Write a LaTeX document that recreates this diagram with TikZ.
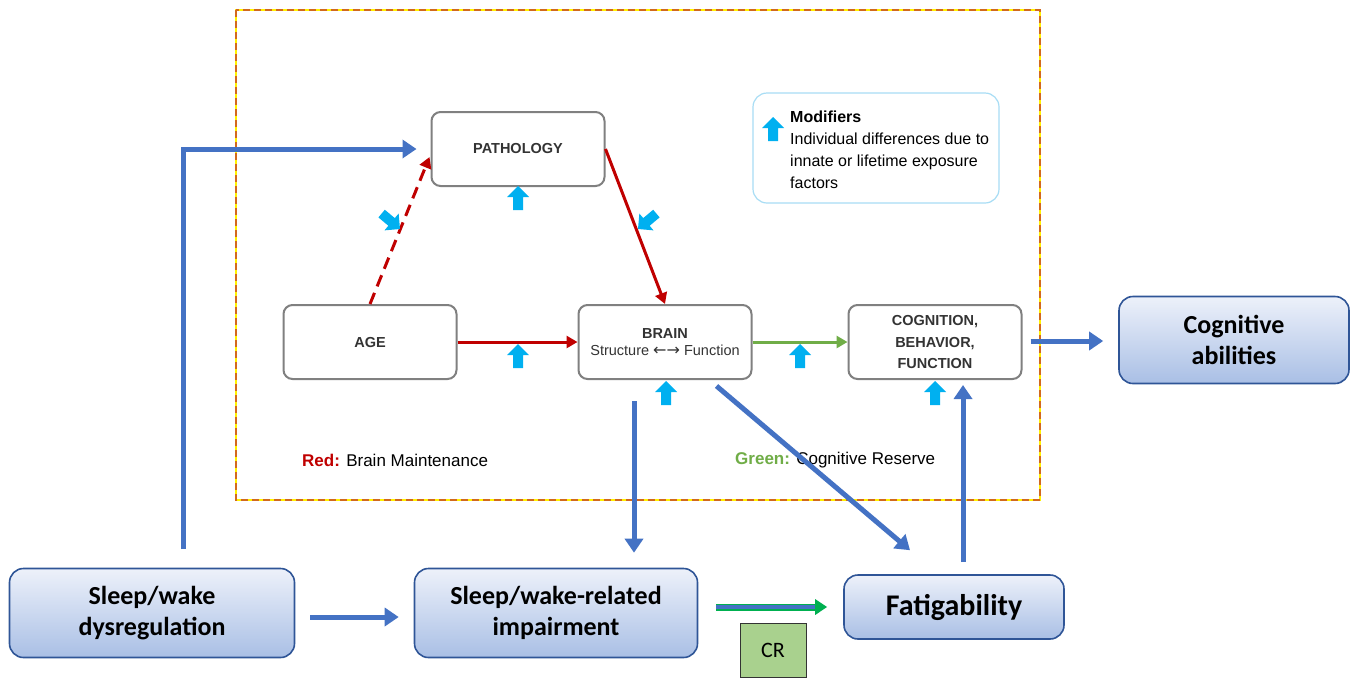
\documentclass[tikz,border=0pt]{standalone}
\usepackage{fontspec}
\setmainfont{Liberation Sans}
\newfontfamily\calib{Carlito}
\newfontfamily\dejavu{DejaVu Sans}
\usetikzlibrary{arrows.meta,calc}
\definecolor{bblue}{HTML}{4472C4}
\definecolor{dblue}{HTML}{2F5597}
\definecolor{dred}{HTML}{C00000}
\definecolor{mgreen}{HTML}{70AD47}
\definecolor{cyanm}{HTML}{00B0F0}
\definecolor{orng}{HTML}{D2691E}
\definecolor{gbox}{HTML}{A9D18E}
\definecolor{lblue}{HTML}{A8DDF5}
\definecolor{boxgray}{HTML}{808080}
\definecolor{txtgray}{HTML}{333333}
\definecolor{topb}{HTML}{EDF1FA}
\definecolor{botb}{HTML}{A9BFE5}
\definecolor{gline}{HTML}{00B050}
\tikzset{
  inbox/.style={draw=boxgray, line width=2pt, rounded corners=9pt, fill=white,
    minimum width=173pt, minimum height=74pt, inner sep=0pt, align=center,
    text=txtgray, font=\bfseries\fontsize{14.5}{20}\selectfont},
  bluebox/.style={draw=dblue, line width=1.6pt, rounded corners=14pt,
    top color=topb, bottom color=botb, inner sep=0pt, align=center,
    font=\calib\bfseries\fontsize{26}{31}\selectfont},
  barrow/.style={draw=bblue, line width=5pt, -{Triangle[length=14pt,width=18pt]}},
  rarrow/.style={draw=dred, line width=3pt, -{Triangle[length=11pt,width=12pt]}},
  garrow/.style={draw=mgreen, line width=3pt, -{Triangle[length=11pt,width=12pt]}},
  modarrow/.pic={\fill[cyanm] (0,0) -- (11,11) -- (5,11) -- (5,24) -- (-5,24) -- (-5,11) -- (-11,11) -- cycle;},
  lab/.style={anchor=west, inner sep=0pt, font=\fontsize{17}{19}\selectfont}
}
\begin{document}
\begin{tikzpicture}[x=1pt,y=-1pt]
\useasboundingbox[fill=white] (0,0) rectangle (1351,678);
% outer dashed frame
\draw[yellow, line width=2.4pt] (236,10) rectangle (1040,500);
\draw[orng, line width=2pt, dash pattern=on 7pt off 4pt] (236,10) rectangle (1040,500);

% inner boxes
\node[inbox] (path) at (518,149) {PATHOLOGY};
\node[inbox] (age) at (370,342) {AGE};
\node[inbox] (brain) at (665,342) {BRAIN\\[-3pt]{\mdseries\fontsize{14.5}{17}\selectfont Structure {\dejavu\fontsize{16}{17}\selectfont ←→} Function}};
\node[inbox, font=\bfseries\fontsize{14.5}{21.5}\selectfont] (cog) at (935,342) {COGNITION,\\BEHAVIOR,\\FUNCTION};

% legend
\node[draw=lblue, line width=1.2pt, rounded corners=14pt, minimum width=246pt, minimum height=110pt] (modbox) at (876,148) {};
\node[anchor=north west, align=left, inner sep=0pt, font=\fontsize{16}{22}\selectfont] (modtxt) at (790,111)
  {\textbf{Modifiers}\\Individual differences due to\\innate or lifetime exposure\\factors};
\pic at (773,117) {modarrow};

% labels
\node[lab] (redlab) at (302,460) {\textcolor{dred}{\textbf{Red:}} Brain Maintenance};
\node[lab] (greenlab) at (735,460) {\textcolor{mgreen}{\textbf{Green:}} Cognitive Reserve};

% outer boxes
\node[bluebox, minimum width=230pt, minimum height=87pt] (ca) at (1234,340) {Cognitive\\abilities};
\node[bluebox, minimum width=285pt, minimum height=89pt] (swd) at (152,613) {Sleep/wake\\dysregulation};
\node[bluebox, minimum width=283pt, minimum height=89pt] (swi) at (556,613) {Sleep/wake-related\\impairment};
\node[bluebox, minimum width=220pt, minimum height=64pt, font=\calib\bfseries\fontsize{30}{34}\selectfont] (fat) at (954,607) {Fatigability};
\node[draw=black!80, line width=1pt, fill=gbox, minimum width=66pt, minimum height=54pt, inner sep=0pt,
  font=\calib\fontsize{22}{26}\selectfont] (cr) at (773,650) {CR};

% red / green connectors
\draw[rarrow, dash pattern=on 12pt off 7pt] (age.north) -- ($(path.west)+(-1,8)$);
\draw[rarrow] (path.east) -- (brain.north);
\draw[rarrow] (age.east) -- (brain.west);
\draw[garrow] (brain.east) -- (cog.west);

% modifier arrows
\pic at (518,186) {modarrow};
\pic at (518,344) {modarrow};
\pic at (666,381) {modarrow};
\pic at (800,344) {modarrow};
\pic at (935,381) {modarrow};
\pic[rotate=-130] at (400,229) {modarrow};
\pic[rotate=130] at (638,229) {modarrow};

% blue connectors
\coordinate (sws) at (183,549);
\draw[barrow, shorten >=14pt] (sws) |- (path.west);
\draw[barrow] ($(brain.south)+(-31,21)$) -- ($(swi.north)+(78,-15)$);
\draw[barrow] ($(brain.south east)+(-36,6)$) -- ($(fat.north)+(-44,-24)$);
\draw[barrow] ($(fat.north)+(9,-12)$) -- ($(cog.south)+(28,5)$);
\draw[barrow] ($(swd.east)+(15,4)$) -- ($(swi.west)+(-15,4)$);
\draw[barrow] ($(cog.east)+(8,-1)$) -- ($(ca.west)+(-15,1)$);
\draw[draw=gline, line width=7pt, -{Triangle[length=12pt,width=15pt]}] ($(swi.east)+(18,-6)$) -- ($(fat.west)+(-16,0)$);
\draw[draw=bblue, line width=3.5pt, shorten >=12pt] ($(swi.east)+(18,-6)$) -- ($(fat.west)+(-16,0)$);
\end{tikzpicture}
\end{document}
